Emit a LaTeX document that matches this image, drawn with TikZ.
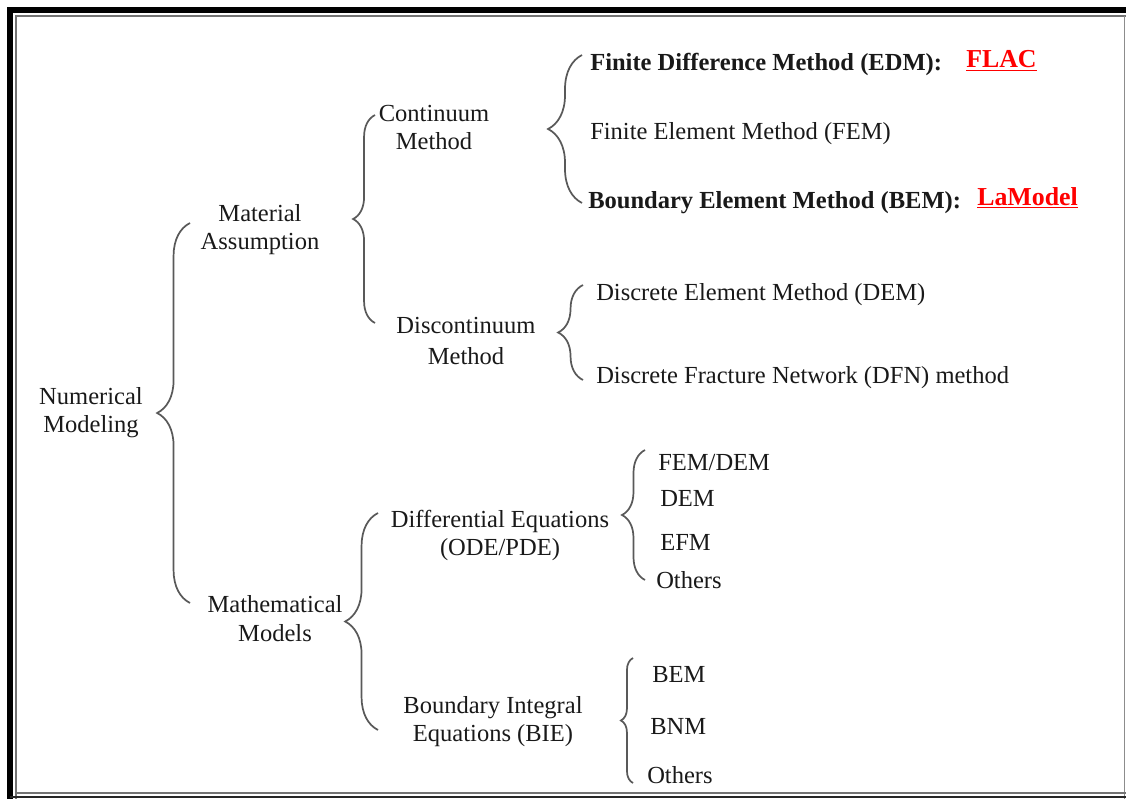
\documentclass[tikz,border=0pt]{standalone}
\usepackage{fontspec}
\setmainfont{Liberation Serif}
\usetikzlibrary{decorations.pathreplacing}

\tikzset{
  txt/.style={inner sep=0pt, yshift=-0.07cm, font=\fontsize{18.5}{21.5}\selectfont, text=black!90},
  item/.style={txt, anchor=west},
  group/.style={txt, align=center},
  soft/.style={txt, anchor=west, font=\fontsize{18.5}{21.5}\selectfont\bfseries},
  tool/.style={inner sep=0pt, yshift=-0.07cm, anchor=west, text=red, font=\fontsize{19.5}{22}\selectfont\bfseries},
  curly/.style={draw=black!65, line width=1.3pt, decorate,
    decoration={brace, amplitude=#1}},
}

\begin{document}
\begin{tikzpicture}[x=0.0265cm, y=-0.0265cm]

      \useasboundingbox (0,0) rectangle (1126,799);

      % frame
      \draw[line width=4.5pt] (10,799) -- (10,10) -- (1126,10);
      \draw[black!55, line width=1.2pt] (16,799) -- (16,16) -- (1126,16);
      \draw[black!45, line width=1.2pt] (1124.5,16) -- (1124.5,799);
      \draw[black!55, line width=1.2pt] (16,793) -- (1126,793);
      \draw[black!85, line width=2.2pt] (10,797) -- (1126,797);

      % left column
      \node[group] (num)  at (91,410)  {Numerical\\Modeling};
      \node[group] (mat)  at (260,227) {Material\\Assumption};
      \node[group] (math) at (275,616) {Mathematical\\Models};

      % material branch
      \node[group] (cont) at (434,125) {Continuum\\Method};
      \node[group] (disc) at (466,338) {Discontinuum\\[2pt]Method};

      \node[soft] (fdm) at (590,62)  {Finite Difference Method (EDM):};
      \node[tool] (flac) at (966,58) {\underline{FLAC}};
      \node[item] (fem) at (590,131) {Finite Element Method (FEM)};
      \node[soft] (bem) at (588,200) {Boundary Element Method (BEM):};
      \node[tool] (lam) at (977,195) {\underline{LaModel}};

      \node[item] (dem) at (596,292) {Discrete Element Method (DEM)};
      \node[item] (dfn) at (596,375) {Discrete Fracture Network (DFN) method};

      % mathematical branch
      \node[group] (ode) at (500,533) {Differential Equations\\(ODE/PDE)};
      \node[item] (fd)   at (658,460) {FEM/DEM};
      \node[item] (dem2) at (660,496) {DEM};
      \node[item] (efm)  at (660,540) {EFM};
      \node[item] (oth1) at (656,577) {Others};

      \node[group] (bie) at (493,719) {Boundary Integral\\Equations (BIE)};
      \node[item] (bem2) at (652,672) {BEM};
      \node[item] (bnm)  at (650,724) {BNM};
      \node[item] (oth2) at (647,772) {Others};

      % brace ends
      \coordinate (b1t) at (190,223);
      \coordinate (b1b) at (190,603);
      \coordinate (b2t) at (375,115);
      \coordinate (b2b) at (375,323);
      \coordinate (b3t) at (378,513);
      \coordinate (b3b) at (378,730);
      \coordinate (b4t) at (582,55);
      \coordinate (b4b) at (582,203);
      \coordinate (b5t) at (583,285);
      \coordinate (b5b) at (583,380);
      \coordinate (b6t) at (645,450);
      \coordinate (b6b) at (645,580);
      \coordinate (b7t) at (633,658);
      \coordinate (b7b) at (633,783);

      \draw[curly=0.87cm] (b1b) -- (b1t);
      \draw[curly=0.58cm] (b2b) -- (b2t);
      \draw[curly=0.87cm] (b3b) -- (b3t);
      \draw[curly=0.9cm]  (b4b) -- (b4t);
      \draw[curly=0.66cm] (b5b) -- (b5t);
      \draw[curly=0.61cm] (b6b) -- (b6t);
      \draw[curly=0.32cm] (b7b) -- (b7t);

    \end{tikzpicture}
\end{document}
